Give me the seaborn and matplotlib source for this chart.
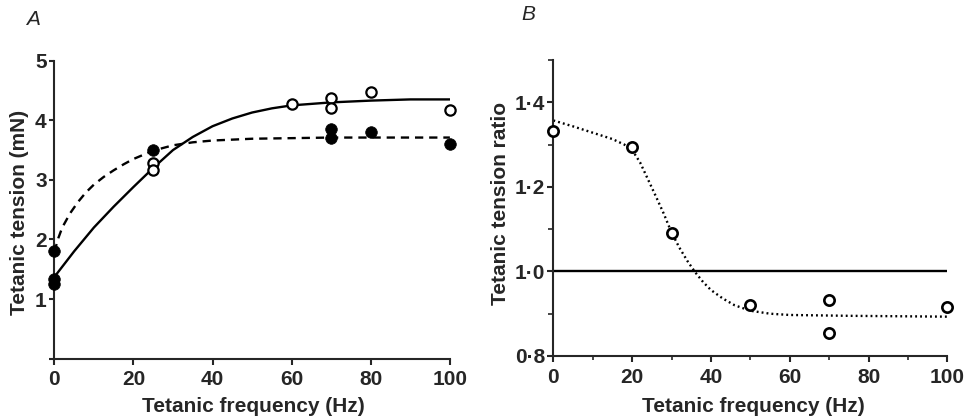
import numpy as np
import pandas as pd
import matplotlib
matplotlib.use('Agg')
import matplotlib.pyplot as plt
from matplotlib.ticker import MultipleLocator, FixedLocator
import seaborn as sns

# ---------------------------------------------------------
# Data
# ---------------------------------------------------------

# Panel A: tetanic tension (mN) vs frequency (Hz)
a_open_x = [25, 25, 60, 70, 70, 80, 100]
a_open_y = [3.28, 3.16, 4.28, 4.38, 4.21, 4.48, 4.18]
a_fill_x = [0, 0, 0, 25, 70, 70, 80, 100]
a_fill_y = [1.80, 1.33, 1.26, 3.50, 3.85, 3.70, 3.81, 3.60]

# fitted curves
a_solid_x = [0, 5, 10, 15, 20, 25, 30, 35, 40, 45, 50, 55, 60, 70, 80, 90, 100]
a_solid_y = [1.37, 1.80, 2.20, 2.55, 2.88, 3.20, 3.50, 3.72, 3.90, 4.03, 4.13, 4.20,
             4.25, 4.30, 4.33, 4.35, 4.35]
a_dash_x = [0, 1, 2, 4, 6, 8, 10, 12.5, 15, 17.5, 20, 25, 30, 35, 40, 50, 60, 70, 100]
a_dash_y = [1.79, 2.02, 2.20, 2.44, 2.63, 2.79, 2.92, 3.05, 3.16, 3.26, 3.35, 3.49,
            3.58, 3.63, 3.66, 3.69, 3.70, 3.71, 3.71]

# Panel B: tension ratio vs frequency
b_x = [0, 20, 30, 50, 70, 70, 100]
b_y = [1.332, 1.294, 1.092, 0.920, 0.932, 0.855, 0.915]
b_fit_x = [0, 5, 10, 15, 18, 20, 22, 24, 26, 28, 30, 32, 34, 36, 38, 40, 43, 46,
           50, 55, 60, 75, 100]
b_fit_y = [1.357, 1.343, 1.328, 1.313, 1.300, 1.287, 1.258, 1.218, 1.178, 1.137,
           1.092, 1.056, 1.025, 0.998, 0.975, 0.956, 0.936, 0.920, 0.907, 0.900,
           0.897, 0.895, 0.893]
b_ref_x = [0, 100]
b_ref_y = [1.0, 1.0]

b_yticks = [0.8, 1.0, 1.2, 1.4]
b_yticklabels = ['0·8', '1·0', '1·2', '1·4']

# ---------------------------------------------------------
# Style
# ---------------------------------------------------------
sns.set_theme(style='ticks')
plt.rcParams['font.family'] = ['Liberation Sans', 'DejaVu Sans']
plt.rcParams['axes.linewidth'] = 1.5

fig = plt.figure(figsize=(9.79, 4.2), dpi=100)
axA = fig.add_axes([0.0555, 0.1462, 0.404, 0.7093])
axB = fig.add_axes([0.5652, 0.1524, 0.4025, 0.7048])

# ---------------------------------------------------------
# Panel A
# ---------------------------------------------------------
sns.lineplot(x=a_solid_x, y=a_solid_y, ax=axA, color='black', lw=1.7, sort=False)
sns.lineplot(x=a_dash_x, y=a_dash_y, ax=axA, color='black', lw=1.7, sort=False,
             dashes=False, linestyle=(0, (3.5, 2.5)))
sns.scatterplot(x=a_open_x, y=a_open_y, ax=axA, marker='o', s=55, facecolor='white',
                edgecolor='black', linewidth=1.6, zorder=5, clip_on=False)
sns.scatterplot(x=a_fill_x, y=a_fill_y, ax=axA, marker='o', s=70, color='black',
                edgecolor='black', linewidth=0.5, zorder=6, clip_on=False)

axA.set_xlim(0, 100)
axA.set_ylim(0, 5)
axA.xaxis.set_major_locator(MultipleLocator(20))
axA.set_yticks([0, 1, 2, 3, 4, 5])
axA.set_yticklabels(['', '1', '2', '3', '4', '5'])
axA.tick_params(axis='x', direction='out', length=4.5, width=1.5, pad=4, labelsize=15)
axA.tick_params(axis='y', direction='out', length=3.5, width=1.5, pad=2, labelsize=15)
axA.set_xlabel('Tetanic frequency (Hz)', fontsize=15, fontweight='bold')
axA.set_ylabel('Tetanic tension (mN)', fontsize=15, fontweight='bold')
axA.xaxis.set_label_coords(0.502, -0.128)
axA.yaxis.set_label_coords(-0.063, 0.492)

# ---------------------------------------------------------
# Panel B
# ---------------------------------------------------------
sns.lineplot(x=b_ref_x, y=b_ref_y, ax=axB, color='black', lw=1.7)
sns.lineplot(x=b_fit_x, y=b_fit_y, ax=axB, color='black', lw=1.7, sort=False,
             dashes=False, linestyle=(0, (0.8, 1.3)))
sns.scatterplot(x=b_x, y=b_y, ax=axB, marker='o', s=55, facecolor='white',
                edgecolor='black', linewidth=1.9, zorder=5, clip_on=False)

axB.set_xlim(0, 100)
axB.set_ylim(0.8, 1.5)
axB.xaxis.set_major_locator(MultipleLocator(20))
axB.xaxis.set_minor_locator(MultipleLocator(10))
axB.set_yticks(b_yticks)
axB.set_yticklabels(b_yticklabels)
axB.yaxis.set_minor_locator(FixedLocator([0.9, 1.1, 1.3, 1.5]))
axB.tick_params(axis='x', which='major', direction='out', length=4.5, width=1.5, pad=4, labelsize=15)
axB.tick_params(axis='x', which='minor', direction='out', length=3, width=1.2)
axB.tick_params(axis='y', which='major', direction='out', length=4, width=1.5, pad=2, labelsize=15)
axB.tick_params(axis='y', which='minor', direction='out', length=3.5, width=1.2)
axB.set_xlabel('Tetanic frequency (Hz)', fontsize=15, fontweight='bold')
axB.set_ylabel('Tetanic tension ratio', fontsize=15, fontweight='bold')
axB.xaxis.set_label_coords(0.507, -0.138)
axB.yaxis.set_label_coords(-0.11, 0.517)

for ax in (axA, axB):
    sns.despine(ax=ax)
    for lab in ax.get_xticklabels() + ax.get_yticklabels():
        lab.set_fontweight('bold')

# panel letters
fig.text(26 / 979, 1 - 25 / 420, 'A', fontsize=15, fontstyle='italic', ha='left', va='baseline')
fig.text(521 / 979, 1 - 20 / 420, 'B', fontsize=15, fontstyle='italic', ha='left', va='baseline')

fig.savefig('out.png', dpi=100)
